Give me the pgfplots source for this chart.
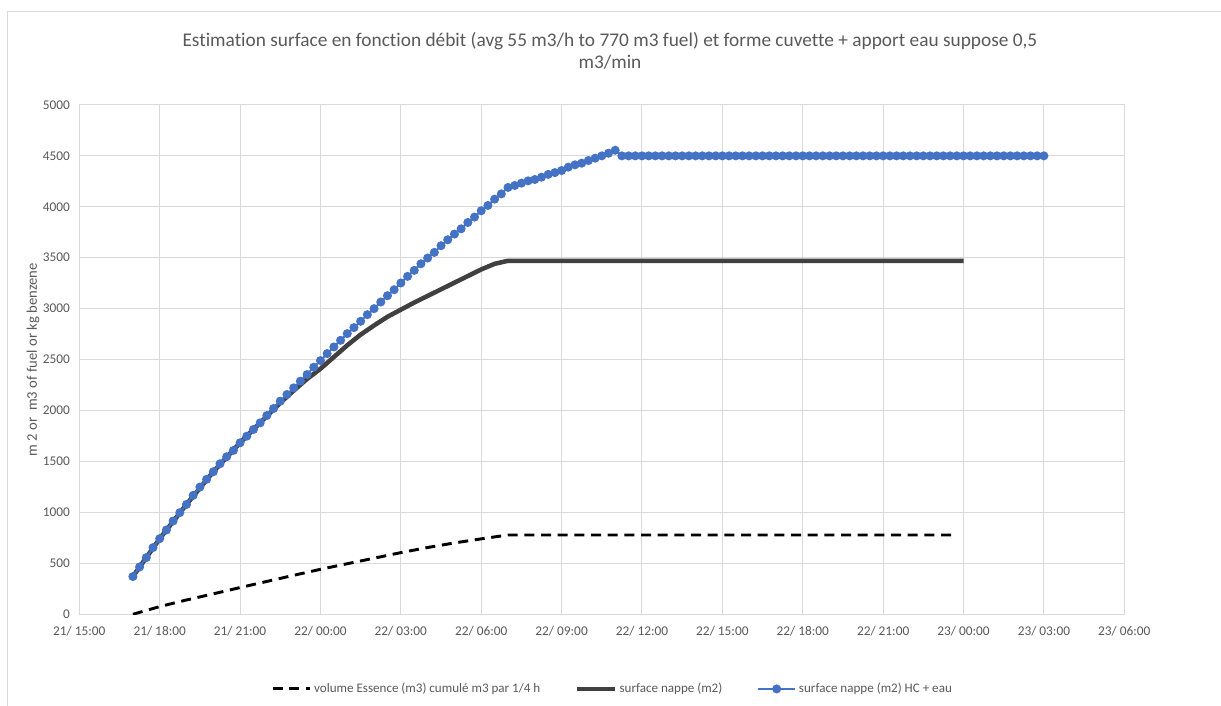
\documentclass[border=0pt]{standalone}
\usepackage{fontspec}
\setmainfont{Carlito}[Ligatures={NoCommon,NoContextual}]
\usepackage{pgfplots}
\pgfplotsset{compat=1.18}
\definecolor{txt}{HTML}{595959}
\definecolor{gridc}{HTML}{D9D9D9}
\definecolor{blueS}{HTML}{4472C4}
\definecolor{darkS}{HTML}{404040}

% hours counted from 21/15:00
\pgfplotstableread{
h v
2 0
3 75
4 140
5 200
6 262
7 322
8 382
9 441
10 496
11 550
12 605
13 655
14 700
15 740
16 778
32.75 778
}\volume

\pgfplotstableread{
h v
2 370
3 742
4 1078
5 1399
6 1683
7 1945
7.5 2075
8 2195
8.5 2310
9 2410
9.5 2525
10 2640
10.5 2745
11 2835
11.5 2920
12 2990
12.5 3060
13 3125
13.5 3190
14 3255
14.5 3320
15 3385
15.5 3440
16 3470
33 3470
}\surface

\pgfplotstableread{
h v
2.00 370
2.25 464
2.50 556
2.75 654
3.00 742
3.25 827
3.50 915
3.75 997
4.00 1078
4.25 1167
4.50 1248
4.75 1324
5.00 1399
5.25 1477
5.50 1546
5.75 1608
6.00 1683
6.25 1748
6.50 1814
6.75 1879
7.00 1951
7.25 2020
7.50 2092
7.75 2157
8.00 2222
8.25 2288
8.50 2353
8.75 2425
9.00 2490
9.25 2559
9.50 2624
9.75 2689
10.00 2755
10.25 2814
10.50 2876
10.75 2941
11.00 3000
11.25 3065
11.50 3127
11.75 3186
12.00 3252
12.25 3317
12.50 3376
12.75 3441
13.00 3497
13.25 3552
13.50 3618
13.75 3676
14.00 3732
14.25 3784
14.50 3846
14.75 3899
15.00 3961
15.25 4013
15.50 4075
15.75 4127
16.00 4190
16.25 4209
16.50 4232
16.75 4255
17.00 4268
17.25 4291
17.50 4318
17.75 4336
18.00 4356
18.25 4389
18.50 4412
18.75 4428
19.00 4454
19.25 4477
19.50 4500
19.75 4526
20.00 4555
20.25 4500
20.50 4500
20.75 4500
21.00 4500
21.25 4500
21.50 4500
21.75 4500
22.00 4500
22.25 4500
22.50 4500
22.75 4500
23.00 4500
23.25 4500
23.50 4500
23.75 4500
24.00 4500
24.25 4500
24.50 4500
24.75 4500
25.00 4500
25.25 4500
25.50 4500
25.75 4500
26.00 4500
26.25 4500
26.50 4500
26.75 4500
27.00 4500
27.25 4500
27.50 4500
27.75 4500
28.00 4500
28.25 4500
28.50 4500
28.75 4500
29.00 4500
29.25 4500
29.50 4500
29.75 4500
30.00 4500
30.25 4500
30.50 4500
30.75 4500
31.00 4500
31.25 4500
31.50 4500
31.75 4500
32.00 4500
32.25 4500
32.50 4500
32.75 4500
33.00 4500
33.25 4500
33.50 4500
33.75 4500
34.00 4500
34.25 4500
34.50 4500
34.75 4500
35.00 4500
35.25 4500
35.50 4500
35.75 4500
36.00 4500
}\surfaceeau

\begin{document}
\begin{tikzpicture}
\useasboundingbox (-59.5pt,-68.8pt) rectangle (856.3pt,460.7pt);
\draw[gridc, line width=0.75pt] (-54.2pt,-68.8pt) -- (-54.2pt,451.7pt) -- (856.3pt,451.7pt);
\begin{axis}[
  scale only axis,
  width=783.75pt, height=382pt,
  xmin=0, xmax=39, ymin=0, ymax=5000,
  xtick={0,3,...,39},
  xticklabels={21/ 15:00,21/ 18:00,21/ 21:00,22/ 00:00,22/ 03:00,22/ 06:00,22/ 09:00,22/ 12:00,22/ 15:00,22/ 18:00,22/ 21:00,23/ 00:00,23/ 03:00,23/ 06:00},
  ytick={0,500,...,5000},
  grid=major,
  grid style={gridc, line width=0.75pt},
  axis line style={gridc, line width=0.75pt},
  major tick length=0pt,
  tick label style={font=\fontsize{10}{12}\selectfont, text=txt},
  xticklabel style={yshift=-5.5pt},
  yticklabel style={xshift=-3.5pt},
  /pgf/number format/assume math mode=true,
  /pgf/number format/set thousands separator={},
  ylabel={m 2 or~ m3 of fuel or kg benzene},
  ylabel style={at={(axis description cs:-0.0443,0.5)}, anchor=center,
    font=\fontsize{11}{13}\selectfont, text=txt},
  legend columns=3,
  legend cell align=left,
  legend style={draw=none, fill=none,
    at={(axis description cs:0.5106,-0.1467)}, anchor=center,
    font=\fontsize{9.8}{12}\selectfont, text=txt,
    /tikz/every even column/.append style={column sep=24pt}},
  legend image code/.code={
    \draw[mark repeat=2, mark phase=2, #1]
      plot coordinates {(0pt,0pt) (14pt,0pt) (28pt,0pt)};},
]
\addplot[black, line width=2.2pt, dash pattern=on 7.5pt off 5pt] table[x=h, y=v] {\volume};
\addlegendentry{volume Essence (m3) cumulé m3 par 1/4 h}
\addplot[darkS, line width=3.4pt] table[x=h, y=v] {\surface};
\addlegendentry{surface nappe (m2)}
\addplot[blueS, line width=1.5pt, mark=*, mark size=2.6pt,
  mark options={fill=blueS, draw=none}] table[x=h, y=v] {\surfaceeau};
\addlegendentry{surface nappe (m2) HC + eau}
\end{axis}
\node[align=center, font=\fontsize{14.5}{17}\selectfont, text=txt] at (398pt,422.5pt)
  {Estimation surface en fonction débit (avg 55 m3/h to 770 m3 fuel) et forme cuvette + apport eau suppose 0,5\\m3/min};
\end{tikzpicture}
\end{document}
